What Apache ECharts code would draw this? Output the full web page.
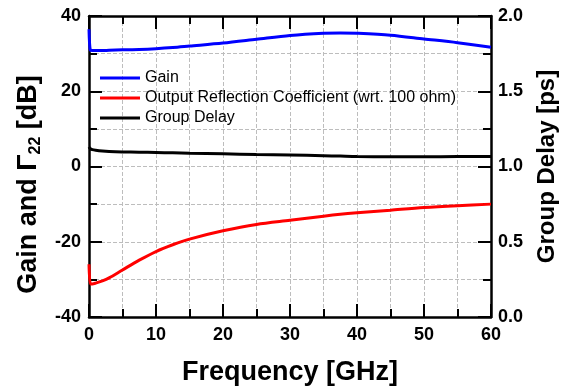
<!DOCTYPE html>
<html>
<head>
<meta charset="utf-8">
<script src="https://cdn.jsdelivr.net/npm/echarts@6/dist/echarts.min.js"></script>
<style>
  html, body { margin: 0; padding: 0; background: #fff; }
  #chart { width: 570px; height: 391px; }
</style>
</head>
<body>
<div id="chart"></div>
<script>
// Frequency points [GHz]
const freq = [0, 0.2, 0.5, 1, 2, 3, 5, 7.5, 10, 12.5, 15, 20, 25, 30, 35, 37.5, 40, 45, 50, 55, 60];
// Gain [dB]
const gain = [36.5, 30.9, 30.8, 30.8, 30.8, 30.9, 31.0, 31.1, 31.3, 31.6, 32.0, 32.8, 33.8, 34.8, 35.4, 35.5, 35.4, 34.9, 33.9, 32.9, 31.7];
// Output reflection coefficient [dB]
const reflection = [-26.0, -31.2, -31.2, -31.0, -30.4, -29.6, -27.5, -24.9, -22.6, -20.8, -19.3, -17.1, -15.4, -14.3, -13.2, -12.7, -12.3, -11.6, -10.9, -10.4, -10.0];
// Group delay [ps]
const groupDelay = [1.13, 1.118, 1.112, 1.108, 1.103, 1.100, 1.097, 1.095, 1.093, 1.091, 1.088, 1.084, 1.080, 1.077, 1.072, 1.069, 1.066, 1.065, 1.065, 1.066, 1.067];

const seriesNames = ["Gain", "Output Reflection Coefficient (wrt. 100 ohm)", "Group Delay"];
const seriesColors = ["#0000ff", "#ff0000", "#000000"];

const FONT = 'Arial, "Liberation Sans", sans-serif';

// fresh objects per axis so echarts never shares them
const gridLine = () => ({ show: true, lineStyle: { color: "#bdbdbd", type: "dashed", width: 1 } });
const axisLine = () => ({ show: true, onZero: false, lineStyle: { color: "#000", width: 2.5 } });
const majorTick = () => ({ show: true, inside: true, length: 13, lineStyle: { color: "#000", width: 2 } });
const minorTick = () => ({ show: true, splitNumber: 2, length: 8, lineStyle: { color: "#000", width: 2 } });
const tickLabel = (margin) => ({ show: true, color: "#000", fontFamily: FONT, fontWeight: "bold", fontSize: 18, margin });

const pairs = (ys) => freq.map((f, i) => [f, ys[i]]);

const chart = echarts.init(document.getElementById("chart"));

const option = {
  animation: false,
  backgroundColor: "#fff",
  grid: { left: 89, right: 79, top: 16, bottom: 73 },
  legend: {
    data: seriesNames,
    orient: "vertical",
    left: 100,
    top: 70,
    padding: 0,
    icon: "rect",
    itemWidth: 40,
    itemHeight: 3,
    itemGap: 4,
    textStyle: { color: "#000", fontFamily: FONT, fontSize: 16, lineHeight: 16 },
  },
  xAxis: [
    {
      type: "value",
      min: 0,
      max: 60,
      interval: 10,
      name: "Frequency [GHz]",
      nameLocation: "middle",
      nameGap: 42,
      nameTextStyle: { color: "#000", fontFamily: FONT, fontWeight: "bold", fontSize: 27 },
      axisLine: axisLine(),
      axisTick: majorTick(),
      minorTick: minorTick(),
      axisLabel: tickLabel(9),
      splitLine: gridLine(),
      minorSplitLine: gridLine(),
    },
    {
      type: "value",
      position: "top",
      min: 0,
      max: 60,
      interval: 10,
      axisLine: axisLine(),
      axisTick: majorTick(),
      minorTick: minorTick(),
      axisLabel: { show: false },
      splitLine: { show: false },
    },
  ],
  yAxis: [
    {
      type: "value",
      min: -40,
      max: 40,
      interval: 20,
      name: "{t|Gain and Γ}{s|22}{t| [dB]}",
      nameLocation: "middle",
      nameRotate: 90,
      nameGap: 33,
      nameTextStyle: {
        padding: [0, 36, 0, 0],
        rich: {
          t: { color: "#000", fontFamily: FONT, fontWeight: "bold", fontSize: 27, lineHeight: 30 },
          s: { color: "#000", fontFamily: FONT, fontWeight: "bold", fontSize: 16, lineHeight: 14, padding: [16, 0, 0, 0] },
        },
      },
      axisLine: axisLine(),
      axisTick: majorTick(),
      minorTick: minorTick(),
      axisLabel: tickLabel(8),
      splitLine: gridLine(),
      minorSplitLine: gridLine(),
    },
    {
      type: "value",
      position: "right",
      min: 0,
      max: 2,
      interval: 0.5,
      name: "Group Delay [ps]",
      nameLocation: "middle",
      nameRotate: 90,
      nameGap: 44,
      nameTextStyle: { color: "#000", fontFamily: FONT, fontWeight: "bold", fontSize: 24 },
      axisLine: axisLine(),
      axisTick: majorTick(),
      minorTick: minorTick(),
      axisLabel: { ...tickLabel(7), formatter: (v) => v.toFixed(1) },
      splitLine: { show: false },
    },
  ],
  series: [
    {
      name: seriesNames[0],
      type: "line",
      yAxisIndex: 0,
      data: pairs(gain),
      smooth: 0.3,
      showSymbol: false,
      color: seriesColors[0],
      lineStyle: { width: 3, color: seriesColors[0] },
    },
    {
      name: seriesNames[1],
      type: "line",
      yAxisIndex: 0,
      data: pairs(reflection),
      smooth: 0.3,
      showSymbol: false,
      color: seriesColors[1],
      lineStyle: { width: 3, color: seriesColors[1] },
    },
    {
      name: seriesNames[2],
      type: "line",
      yAxisIndex: 1,
      data: pairs(groupDelay),
      smooth: 0.3,
      showSymbol: false,
      color: seriesColors[2],
      lineStyle: { width: 3, color: seriesColors[2] },
    },
  ],
};

chart.setOption(option);
</script>
</body>
</html>
